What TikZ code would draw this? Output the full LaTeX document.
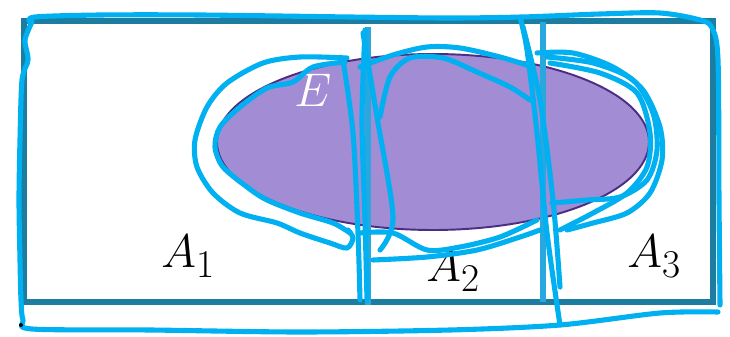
\documentclass[tikz,border=0pt]{standalone}
\usepackage{amsmath}
\usepackage{tikz}
\usetikzlibrary{calc}

\definecolor{frameteal}{RGB}{28,125,160}
\definecolor{divblue}{RGB}{41,168,224}
\definecolor{penblue}{RGB}{0,176,240}
\definecolor{eventfill}{RGB}{162,140,212}
\definecolor{eventline}{RGB}{75,46,131}

\begin{document}
\begin{tikzpicture}[x=0.02cm, y=-0.02cm,
                frame/.style={draw=frameteal, line width=3pt},
                divider/.style={draw=divblue, line width=3.6pt},
                event/.style={fill=eventfill, draw=eventline, line width=1.1pt},
                setlabel/.style={inner sep=0pt, anchor=base west, font=\Huge, scale=1.08},
                scribble/.style={draw=penblue, line width=2.9pt, line cap=round, line join=round}
            ]
                \useasboundingbox (0,0) rectangle (730,337);

                % Sample space and event
                \draw[frame] (24,21) rectangle (713,302);
                \draw[event] (433,142) ellipse (216 and 88);

                % Partition lines
                \coordinate (d1-top) at (368,27);
                \coordinate (d1-bot) at (368,305);
                \coordinate (d2-top) at (543,22);
                \coordinate (d2-bot) at (543,302);
                \draw[divider] (d1-top) -- (d1-bot);
                \draw[divider] (d2-top) -- (d2-bot);

                % Labels
                \node[setlabel, text=white] (e) at (294,107) {$E$};
                \node[setlabel] (a1) at (161,268) {$A_1$};
                \node[setlabel] (a2) at (426,282) {$A_2$};
                \node[setlabel] (a3) at (627,268) {$A_3$};

                % Pen strokes: whole space
                \draw[scribble] plot[smooth] coordinates {(32,22) (25,40) (28,60) (22,80) (20,140) (19,200) (20,260) (21,300) (23,320) (32,329) (150,330) (300,332) (450,330) (560,325) (660,313) (718,312)};
                \draw[scribble] plot[smooth] coordinates {(720,305) (719,200) (718,60) (712,28) (700,20) (660,13) (600,14) (523,17) (450,18) (350,17) (200,15) (100,15) (35,17) (30,22)};

                % Pen strokes: E and A1
                \draw[scribble] plot[smooth] coordinates {(347,58) (300,57) (263,63) (227,83) (207,107) (195,140) (197,167) (213,193) (240,213) (277,223) (300,233) (330,243) (347,248) (353,238) (348,230)};
                \draw[scribble] plot[smooth] coordinates {(345,62) (313,67) (293,82) (267,88) (240,107) (220,127) (215,147) (223,167) (247,187) (267,200) (300,213) (333,223) (350,233)};
                \draw[scribble] plot[smooth] coordinates {(343,60) (353,133) (358,233) (360,300)};
                \draw[scribble] plot[smooth] coordinates {(365,30) (362,120) (365,220) (367,300)};
                \draw[scribble] plot[smooth] coordinates {(363,33) (377,117) (393,217) (380,250)};

                % Pen strokes: E and A2
                \draw[scribble] plot[smooth] coordinates {(360,67) (393,55) (427,47) (460,48) (500,57) (533,67)};
                \draw[scribble] plot[smooth] coordinates {(380,117) (390,77) (410,58) (443,58) (477,72) (510,87) (530,100)};
                \draw[scribble] plot[smooth] coordinates {(360,233) (393,233) (427,250) (460,247) (500,237) (537,220)};
                \draw[scribble] plot[smooth] coordinates {(373,260) (427,257) (477,250) (520,237) (540,230)};

                % Pen strokes: E and A3
                \draw[scribble] plot[smooth] coordinates {(520,17) (527,50) (537,133) (547,233) (560,325)};
                \draw[scribble] plot[smooth] coordinates {(523,27) (540,100) (553,200) (560,287)};
                \draw[scribble] plot[smooth] coordinates {(537,53) (573,53) (613,67) (643,90) (660,127) (662,160) (650,193) (627,213) (593,223) (567,230)};
                \draw[scribble] plot[smooth] coordinates {(547,57) (593,63) (633,80) (653,113) (657,150) (647,180) (620,197) (587,200) (552,203)};
                \draw[scribble] plot[smooth] coordinates {(550,63) (600,73) (637,93) (650,133) (647,167) (627,193) (593,213) (560,230)};

                % Stray dot
                \fill (21,325) circle (2);
            \end{tikzpicture}
\end{document}
